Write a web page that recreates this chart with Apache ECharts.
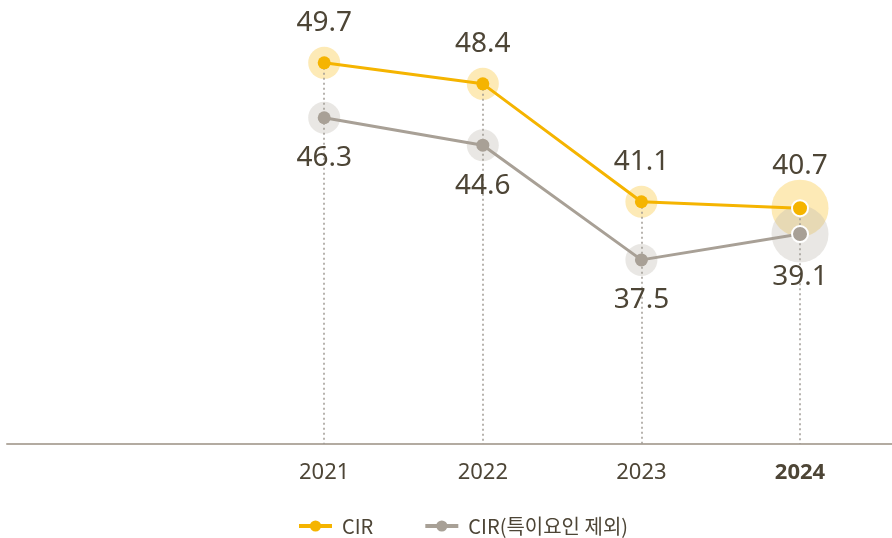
<!DOCTYPE html>
<html>
<head>
<meta charset="utf-8">
<script src="https://cdn.jsdelivr.net/npm/echarts@6/dist/echarts.min.js"></script>
<style>
    html, body { margin: 0; padding: 0; background: #fff; }
    #chart { width: 892px; height: 538px; }
</style>
</head>
<body>
<div id="chart"></div>
<script>
    var years = [2021, 2022, 2023, 2024];
    var cir = [49.7, 48.4, 41.1, 40.7];
    var cirEx = [46.3, 44.6, 37.5, 39.1];
    var names = ['CIR', 'CIR(특이요인 제외)'];

    var yMin = 26.1;
    var last = years.length - 1;
    var textColor = '#4d4536';

    function pts(vals) {
        return years.map(function (y, i) {
            var p = { value: [y, vals[i]] };
            if (i === last) {
                p.itemStyle = { borderColor: '#fff', borderWidth: 2 };
                p.symbolSize = 16;
            }
            return p;
        });
    }

    var chart = echarts.init(document.getElementById('chart'));
    chart.setOption({
        animation: false,
        grid: { left: 7, right: 0, top: 58, bottom: 94 },
        xAxis: {
            type: 'value',
            min: 2019,
            max: 2024.58,
            interval: 1,
            splitLine: { show: false },
            axisTick: { show: false },
            axisLine: { show: true, onZero: false, lineStyle: { color: '#b3aba1', width: 2 } },
            axisLabel: {
                margin: 18,
                fontSize: 22,
                fontFamily: 'Noto Sans',
                color: textColor,
                showMaxLabel: false,
                formatter: function (v) {
                    if (years.indexOf(v) < 0) return '';
                    return v === years[last] ? '{b|' + v + '}' : String(v);
                },
                rich: {
                    b: { fontSize: 22, fontWeight: 'bold', fontFamily: 'Noto Sans', color: textColor }
                }
            }
        },
        yAxis: {
            type: 'value',
            min: yMin,
            max: 50,
            show: false
        },
        legend: {
            data: [
                { name: names[0], lineStyle: { width: 4 } },
                { name: names[1], lineStyle: { width: 4 } }
            ],
            top: 511,
            left: 292,
            itemWidth: 33,
            itemHeight: 14,
            itemGap: 50,
            textStyle: { fontSize: 20, color: textColor, fontFamily: 'Noto Sans CJK KR', padding: [0, 0, 0, 5] }
        },
        series: [
            {
                name: 'halo1',
                type: 'scatter',
                silent: true,
                z: 1,
                data: years.map(function (y, i) { return [y, cir[i]]; }),
                symbolSize: function (v, p) { return p.dataIndex === last ? 57 : 32; },
                itemStyle: { color: 'rgba(251, 200, 60, 0.47)' }
            },
            {
                name: 'halo2',
                type: 'scatter',
                silent: true,
                z: 1,
                data: years.map(function (y, i) { return [y, cirEx[i]]; }),
                symbolSize: function (v, p) { return p.dataIndex === last ? 57 : 32; },
                itemStyle: { color: 'rgba(190, 185, 178, 0.43)' }
            },
            {
                name: names[0],
                type: 'line',
                z: 3,
                data: pts(cir),
                symbol: 'circle',
                symbolSize: 13,
                lineStyle: { color: '#f5b400', width: 3 },
                itemStyle: { color: '#f5b400' },
                label: {
                    show: true,
                    position: 'top',
                    distance: 19,
                    fontSize: 28,
                    fontFamily: 'Noto Sans',
                    color: textColor
                },
                markLine: {
                    silent: true,
                    symbol: 'none',
                    z: 2,
                    label: { show: false },
                    lineStyle: { type: [2, 3], color: '#a09a94', width: 1.5 },
                    data: years.map(function (y, i) {
                        return [{ coord: [y, cir[i]] }, { coord: [y, yMin] }];
                    })
                }
            },
            {
                name: names[1],
                type: 'line',
                z: 3,
                data: pts(cirEx),
                symbol: 'circle',
                symbolSize: 13,
                lineStyle: { color: '#a8a096', width: 3 },
                itemStyle: { color: '#a8a096' },
                label: {
                    show: true,
                    position: 'bottom',
                    distance: 20,
                    fontSize: 28,
                    fontFamily: 'Noto Sans',
                    color: textColor
                }
            }
        ]
    });
</script>
</body>
</html>
